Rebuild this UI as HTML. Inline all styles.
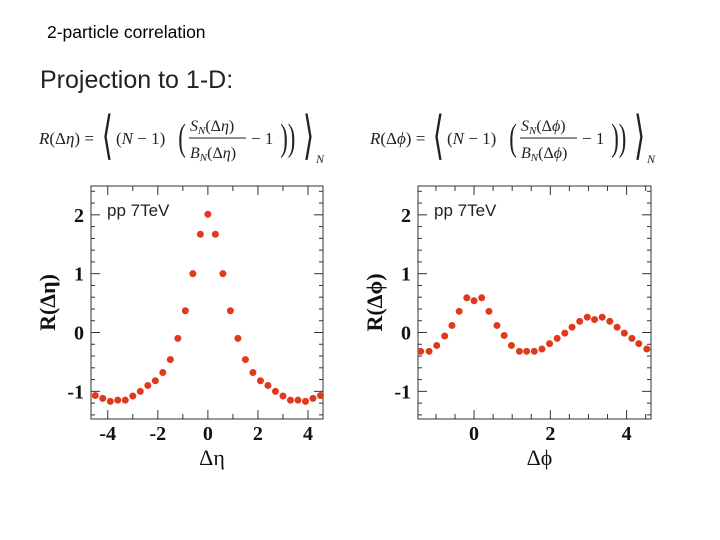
<!DOCTYPE html>
<html><head><meta charset="utf-8"><style>
body{margin:0;background:#fff;}
svg{display:block;}
</style></head><body>
<svg id="s" width="720" height="540" xmlns="http://www.w3.org/2000/svg" font-family="Liberation Sans, sans-serif">
<text x="47" y="38" font-size="17.5" fill="#000">2-particle correlation</text>
<text x="40" y="88" font-size="25" fill="#222">Projection to 1-D:</text>
<g font-family="Liberation Serif, serif" font-size="17" fill="#222">
<text x="39" y="144"><tspan font-style="italic">R</tspan>(Δ<tspan font-style="italic">η</tspan>) =</text>
<text x="102" y="153" font-size="52" transform="scale(0.55,1) translate(83,0)">⟨</text>
<text x="116" y="144">(<tspan font-style="italic">N</tspan> − 1)</text>
<text x="178" y="150" font-size="38" transform="scale(0.6,1) translate(119,0)">(</text>
<text x="190" y="131" font-size="16"><tspan font-style="italic">S<tspan font-size="11" dy="3">N</tspan></tspan><tspan dy="-3">(Δ</tspan><tspan font-style="italic">η</tspan>)</text>
<line x1="189" y1="138" x2="246" y2="138" stroke="#222" stroke-width="1"/>
<text x="190" y="158" font-size="16"><tspan font-style="italic">B<tspan font-size="11" dy="3">N</tspan></tspan><tspan dy="-3">(Δ</tspan><tspan font-style="italic">η</tspan>)</text>
<text x="251" y="144">− 1</text>
<text x="280" y="150" font-size="38" transform="scale(0.6,1) translate(187,0)">))</text>
<text x="303" y="153" font-size="52" transform="scale(0.55,1) translate(248,0)">⟩</text>
<text x="316" y="163" font-size="12" font-style="italic">N</text>
</g>
<g font-family="Liberation Serif, serif" font-size="17" fill="#222" transform="translate(331,0)">
<text x="39" y="144"><tspan font-style="italic">R</tspan>(Δ<tspan font-style="italic">ϕ</tspan>) =</text>
<text x="102" y="153" font-size="52" transform="scale(0.55,1) translate(83,0)">⟨</text>
<text x="116" y="144">(<tspan font-style="italic">N</tspan> − 1)</text>
<text x="178" y="150" font-size="38" transform="scale(0.6,1) translate(119,0)">(</text>
<text x="190" y="131" font-size="16"><tspan font-style="italic">S<tspan font-size="11" dy="3">N</tspan></tspan><tspan dy="-3">(Δ</tspan><tspan font-style="italic">ϕ</tspan>)</text>
<line x1="189" y1="138" x2="246" y2="138" stroke="#222" stroke-width="1"/>
<text x="190" y="158" font-size="16"><tspan font-style="italic">B<tspan font-size="11" dy="3">N</tspan></tspan><tspan dy="-3">(Δ</tspan><tspan font-style="italic">ϕ</tspan>)</text>
<text x="251" y="144">− 1</text>
<text x="280" y="150" font-size="38" transform="scale(0.6,1) translate(187,0)">))</text>
<text x="303" y="153" font-size="52" transform="scale(0.55,1) translate(248,0)">⟩</text>
<text x="316" y="163" font-size="12" font-style="italic">N</text>
</g>
<g id="p1"></g>
<g id="p2"></g>
</svg>
<script>
const etaX=[-4.5,-4.2,-3.9,-3.6,-3.3,-3.0,-2.7,-2.4,-2.1,-1.8,-1.5,-1.2,-0.9,-0.6,-0.3,0,0.3,0.6,0.9,1.2,1.5,1.8,2.1,2.4,2.7,3.0,3.3,3.6,3.9,4.2,4.5];
const etaY=[-1.07,-1.12,-1.17,-1.15,-1.15,-1.08,-1.0,-0.9,-0.82,-0.68,-0.46,-0.10,0.37,1.0,1.67,2.01,1.67,1.0,0.37,-0.10,-0.46,-0.68,-0.82,-0.9,-1.0,-1.08,-1.15,-1.15,-1.17,-1.12,-1.07];
const phiX=[-1.40,-1.18,-0.98,-0.77,-0.58,-0.39,-0.19,0,0.20,0.39,0.60,0.79,0.98,1.19,1.38,1.58,1.78,1.98,2.18,2.38,2.57,2.77,2.97,3.16,3.36,3.56,3.75,3.94,4.14,4.32,4.53];
const phiY=[-0.32,-0.32,-0.22,-0.06,0.12,0.36,0.59,0.54,0.59,0.36,0.12,-0.05,-0.22,-0.32,-0.32,-0.32,-0.28,-0.19,-0.10,-0.01,0.09,0.19,0.26,0.22,0.26,0.19,0.09,-0.01,-0.10,-0.19,-0.28];
const yTicks=[2,1,0,-1];
const yTickLabels=["2","1","0","-1"];
const etaTicks=[-4,-2,0,2,4];
const etaTickLabels=["-4","-2","0","2","4"];
const phiTicks=[0,2,4];
const phiTickLabels=["0","2","4"];
const NS="http://www.w3.org/2000/svg";
function mk(p,t,a){const e=document.createElementNS(NS,t);for(const k in a)e.setAttribute(k,a[k]);p.appendChild(e);return e;}
function plot(g,L,R,xmin,xmax,xs,ys,xt,xtl,xminor,ylab,xlab){
 const T=186,B=419,ymin=-1.47,ymax=2.49;
 const sx=v=>L+(v-xmin)/(xmax-xmin)*(R-L);
 const sy=v=>B-(v-ymin)/(ymax-ymin)*(B-T);
 const fr=mk(g,'rect',{x:L,y:T,width:R-L,height:B-T,fill:'none',stroke:'#333','stroke-width':1});
 
 
 for(let v=-1.4;v<=2.41;v+=0.2){const y=sy(v);const major=Math.abs(v-Math.round(v))<0.01;const l=major?9:(Math.abs(v*2-Math.round(v*2))<0.01?6:4);
  mk(g,'line',{x1:L,x2:L+l,y1:y,y2:y,stroke:'#333'});mk(g,'line',{x1:R,x2:R-l,y1:y,y2:y,stroke:'#333'});}
 for(let v=Math.ceil(xmin/xminor)*xminor;v<=xmax;v+=xminor){const x=sx(v);const major=xt.some(t=>Math.abs(t-v)<0.01);const l=major?9:5;
  mk(g,'line',{x1:x,x2:x,y1:B,y2:B-l,stroke:'#333'});mk(g,'line',{x1:x,x2:x,y1:T,y2:T+l,stroke:'#333'});}
 yTicks.forEach((v,i)=>{const t=mk(g,'text',{x:L-7,y:sy(v)+7,'text-anchor':'end','font-family':'Liberation Serif, serif','font-weight':'bold','font-size':20,fill:'#111'});t.textContent=yTickLabels[i];
  });
 xt.forEach((v,i)=>{const t=mk(g,'text',{x:sx(v),y:B+21,'text-anchor':'middle','font-family':'Liberation Serif, serif','font-weight':'bold','font-size':20,fill:'#111'});t.textContent=xtl[i];
  });
 const yl=mk(g,'text',{x:0,y:0,transform:`translate(${L-36},${(T+B)/2}) rotate(-90)`,'text-anchor':'middle','font-family':'Liberation Serif, serif','font-weight':'bold','font-size':22,fill:'#111'});yl.textContent=ylab;
 
 const xl=mk(g,'text',{x:(L+R)/2+5,y:B+46,'text-anchor':'middle','font-family':'Liberation Serif, serif','font-size':22,fill:'#111'});xl.textContent=xlab;
 
 const lg=mk(g,'text',{x:L+16,y:T+30,'font-size':17,fill:'#222'});lg.textContent='pp 7TeV';
 
 xs.forEach((x,i)=>{const c=mk(g,'circle',{cx:sx(x),cy:sy(ys[i]),r:3.5,fill:'#e03a1e'});
  });
}
plot(document.getElementById('p1'),91,323,-4.67,4.6,etaX,etaY,etaTicks,etaTickLabels,1,'R(Δη)','Δη');
plot(document.getElementById('p2'),418,651,-1.47,4.64,phiX,phiY,phiTicks,phiTickLabels,0.5,'R(Δϕ)','Δϕ');
</script>
</body></html>
